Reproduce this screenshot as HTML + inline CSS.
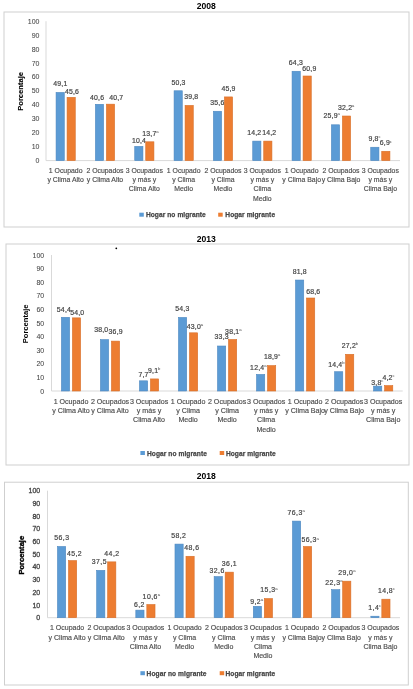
<!DOCTYPE html><html><head><meta charset="utf-8"><style>html,body{margin:0;padding:0;background:#fff;width:413px;height:689px;overflow:hidden}svg{display:block;will-change:transform}text{font-family:"Liberation Sans",sans-serif}.g{fill:#454545;stroke:#454545;stroke-width:0.2}</style></head><body>
<svg width="413" height="689" viewBox="0 0 413 689">
<rect width="413" height="689" fill="#fff"/>
<rect x="4" y="12" width="405" height="215" fill="none" stroke="#CFCFCF" stroke-width="1"/>
<text x="206.3" y="8.9" font-size="8.6" font-weight="bold" text-anchor="middle" fill="#000">2008</text>
<text x="39.5" y="163.10" font-size="7.0" text-anchor="end" class="g" style="stroke-width:0.05">0</text>
<text x="39.5" y="149.16" font-size="7.0" text-anchor="end" class="g" style="stroke-width:0.05">10</text>
<text x="39.5" y="135.22" font-size="7.0" text-anchor="end" class="g" style="stroke-width:0.05">20</text>
<text x="39.5" y="121.28" font-size="7.0" text-anchor="end" class="g" style="stroke-width:0.05">30</text>
<text x="39.5" y="107.34" font-size="7.0" text-anchor="end" class="g" style="stroke-width:0.05">40</text>
<text x="39.5" y="93.40" font-size="7.0" text-anchor="end" class="g" style="stroke-width:0.05">50</text>
<text x="39.5" y="79.46" font-size="7.0" text-anchor="end" class="g" style="stroke-width:0.05">60</text>
<text x="39.5" y="65.52" font-size="7.0" text-anchor="end" class="g" style="stroke-width:0.05">70</text>
<text x="39.5" y="51.58" font-size="7.0" text-anchor="end" class="g" style="stroke-width:0.05">80</text>
<text x="39.5" y="37.64" font-size="7.0" text-anchor="end" class="g" style="stroke-width:0.05">90</text>
<text x="39.5" y="23.70" font-size="7.0" text-anchor="end" class="g" style="stroke-width:0.05">100</text>
<line x1="46" y1="21.2" x2="46" y2="160.6" stroke="#D9D9D9" stroke-width="1"/>
<line x1="46" y1="160.6" x2="400" y2="160.6" stroke="#D9D9D9" stroke-width="1"/>
<text x="0" y="0" transform="translate(23.0,91.4) rotate(-90)" font-size="7.6" font-weight="bold" text-anchor="middle" fill="#000" stroke="#000" stroke-width="0.1">Porcentaje</text>
<rect x="56.07" y="92.45" width="8.20" height="68.15" fill="#5B9BD5" stroke="#4D88C0" stroke-width="0.6"/>
<text x="60.35" y="86.30" font-size="6.9" letter-spacing="0.2" text-anchor="middle" class="g">49,1</text>
<rect x="67.07" y="97.33" width="8.20" height="63.27" fill="#ED7D31" stroke="#D76F2A" stroke-width="0.6"/>
<text x="72.05" y="93.90" font-size="6.9" letter-spacing="0.2" text-anchor="middle" class="g">45,6</text>
<text x="65.67" y="173.00" font-size="6.9" text-anchor="middle" class="g" style="fill:#4d4d4d;stroke:#4d4d4d;stroke-width:.15">1 Ocupado</text>
<text x="65.67" y="182.20" font-size="6.9" text-anchor="middle" class="g" style="fill:#4d4d4d;stroke:#4d4d4d;stroke-width:.15">y Clima Alto</text>
<rect x="95.40" y="104.30" width="8.20" height="56.30" fill="#5B9BD5" stroke="#4D88C0" stroke-width="0.6"/>
<text x="97.15" y="99.50" font-size="6.9" letter-spacing="0.2" text-anchor="middle" class="g">40,6</text>
<rect x="106.40" y="104.16" width="8.20" height="56.44" fill="#ED7D31" stroke="#D76F2A" stroke-width="0.6"/>
<text x="116.30" y="99.50" font-size="6.9" letter-spacing="0.2" text-anchor="middle" class="g">40,7</text>
<text x="105.00" y="173.00" font-size="6.9" text-anchor="middle" class="g" style="fill:#4d4d4d;stroke:#4d4d4d;stroke-width:.15">2 Ocupados</text>
<text x="105.00" y="182.20" font-size="6.9" text-anchor="middle" class="g" style="fill:#4d4d4d;stroke:#4d4d4d;stroke-width:.15">y Clima Alto</text>
<rect x="134.73" y="146.40" width="8.20" height="14.20" fill="#5B9BD5" stroke="#4D88C0" stroke-width="0.6"/>
<text x="139.00" y="142.60" font-size="6.9" letter-spacing="0.2" text-anchor="middle" class="g">10,4</text>
<rect x="145.73" y="141.80" width="8.20" height="18.80" fill="#ED7D31" stroke="#D76F2A" stroke-width="0.6"/>
<text x="150.45" y="135.80" font-size="6.9" letter-spacing="0.2" text-anchor="middle" class="g">13,7<tspan font-size="4.2" dy="-2.9" dx="-0.2" letter-spacing="0" style="stroke-width:0">a</tspan></text>
<text x="144.33" y="173.00" font-size="6.9" text-anchor="middle" class="g" style="fill:#4d4d4d;stroke:#4d4d4d;stroke-width:.15">3 Ocupados</text>
<text x="144.33" y="182.20" font-size="6.9" text-anchor="middle" class="g" style="fill:#4d4d4d;stroke:#4d4d4d;stroke-width:.15">y más y</text>
<text x="144.33" y="191.40" font-size="6.9" text-anchor="middle" class="g" style="fill:#4d4d4d;stroke:#4d4d4d;stroke-width:.15">Clima Alto</text>
<rect x="174.07" y="90.78" width="8.20" height="69.82" fill="#5B9BD5" stroke="#4D88C0" stroke-width="0.6"/>
<text x="178.50" y="85.00" font-size="6.9" letter-spacing="0.2" text-anchor="middle" class="g">50,3</text>
<rect x="185.07" y="105.42" width="8.20" height="55.18" fill="#ED7D31" stroke="#D76F2A" stroke-width="0.6"/>
<text x="191.25" y="99.00" font-size="6.9" letter-spacing="0.2" text-anchor="middle" class="g">39,8</text>
<text x="183.67" y="173.00" font-size="6.9" text-anchor="middle" class="g" style="fill:#4d4d4d;stroke:#4d4d4d;stroke-width:.15">1 Ocupado</text>
<text x="183.67" y="182.20" font-size="6.9" text-anchor="middle" class="g" style="fill:#4d4d4d;stroke:#4d4d4d;stroke-width:.15">y Clima</text>
<text x="183.67" y="191.40" font-size="6.9" text-anchor="middle" class="g" style="fill:#4d4d4d;stroke:#4d4d4d;stroke-width:.15">Medio</text>
<rect x="213.40" y="111.27" width="8.20" height="49.33" fill="#5B9BD5" stroke="#4D88C0" stroke-width="0.6"/>
<text x="217.40" y="104.80" font-size="6.9" letter-spacing="0.2" text-anchor="middle" class="g">35,6</text>
<rect x="224.40" y="96.92" width="8.20" height="63.68" fill="#ED7D31" stroke="#D76F2A" stroke-width="0.6"/>
<text x="228.55" y="90.90" font-size="6.9" letter-spacing="0.2" text-anchor="middle" class="g">45,9</text>
<text x="223.00" y="173.00" font-size="6.9" text-anchor="middle" class="g" style="fill:#4d4d4d;stroke:#4d4d4d;stroke-width:.15">2 Ocupados</text>
<text x="223.00" y="182.20" font-size="6.9" text-anchor="middle" class="g" style="fill:#4d4d4d;stroke:#4d4d4d;stroke-width:.15">y Clima</text>
<text x="223.00" y="191.40" font-size="6.9" text-anchor="middle" class="g" style="fill:#4d4d4d;stroke:#4d4d4d;stroke-width:.15">Medio</text>
<rect x="252.73" y="141.11" width="8.20" height="19.49" fill="#5B9BD5" stroke="#4D88C0" stroke-width="0.6"/>
<text x="254.25" y="134.50" font-size="6.9" letter-spacing="0.2" text-anchor="middle" class="g">14,2</text>
<rect x="263.73" y="141.11" width="8.20" height="19.49" fill="#ED7D31" stroke="#D76F2A" stroke-width="0.6"/>
<text x="269.25" y="134.50" font-size="6.9" letter-spacing="0.2" text-anchor="middle" class="g">14,2</text>
<text x="262.33" y="173.00" font-size="6.9" text-anchor="middle" class="g" style="fill:#4d4d4d;stroke:#4d4d4d;stroke-width:.15">3 Ocupados</text>
<text x="262.33" y="182.20" font-size="6.9" text-anchor="middle" class="g" style="fill:#4d4d4d;stroke:#4d4d4d;stroke-width:.15">y más y</text>
<text x="262.33" y="191.40" font-size="6.9" text-anchor="middle" class="g" style="fill:#4d4d4d;stroke:#4d4d4d;stroke-width:.15">Clima</text>
<text x="262.33" y="200.60" font-size="6.9" text-anchor="middle" class="g" style="fill:#4d4d4d;stroke:#4d4d4d;stroke-width:.15">Medio</text>
<rect x="292.07" y="71.27" width="8.20" height="89.33" fill="#5B9BD5" stroke="#4D88C0" stroke-width="0.6"/>
<text x="295.95" y="65.00" font-size="6.9" letter-spacing="0.2" text-anchor="middle" class="g">64,3</text>
<rect x="303.07" y="76.01" width="8.20" height="84.59" fill="#ED7D31" stroke="#D76F2A" stroke-width="0.6"/>
<text x="309.35" y="70.80" font-size="6.9" letter-spacing="0.2" text-anchor="middle" class="g">60,9</text>
<text x="301.67" y="173.00" font-size="6.9" text-anchor="middle" class="g" style="fill:#4d4d4d;stroke:#4d4d4d;stroke-width:.15">1 Ocupado</text>
<text x="301.67" y="182.20" font-size="6.9" text-anchor="middle" class="g" style="fill:#4d4d4d;stroke:#4d4d4d;stroke-width:.15">y Clima Bajo</text>
<rect x="331.40" y="124.80" width="8.20" height="35.80" fill="#5B9BD5" stroke="#4D88C0" stroke-width="0.6"/>
<text x="331.65" y="118.20" font-size="6.9" letter-spacing="0.2" text-anchor="middle" class="g">25,9<tspan font-size="4.2" dy="-2.9" dx="-0.2" letter-spacing="0" style="stroke-width:0">a</tspan></text>
<rect x="342.40" y="116.01" width="8.20" height="44.59" fill="#ED7D31" stroke="#D76F2A" stroke-width="0.6"/>
<text x="346.15" y="110.00" font-size="6.9" letter-spacing="0.2" text-anchor="middle" class="g">32,2<tspan font-size="4.2" dy="-2.9" dx="-0.2" letter-spacing="0" style="stroke-width:0">a</tspan></text>
<text x="341.00" y="173.00" font-size="6.9" text-anchor="middle" class="g" style="fill:#4d4d4d;stroke:#4d4d4d;stroke-width:.15">2 Ocupados</text>
<text x="341.00" y="182.20" font-size="6.9" text-anchor="middle" class="g" style="fill:#4d4d4d;stroke:#4d4d4d;stroke-width:.15">y Clima Bajo</text>
<rect x="370.73" y="147.24" width="8.20" height="13.36" fill="#5B9BD5" stroke="#4D88C0" stroke-width="0.6"/>
<text x="374.50" y="140.80" font-size="6.9" letter-spacing="0.2" text-anchor="middle" class="g">9,8<tspan font-size="4.2" dy="-2.9" dx="-0.2" letter-spacing="0" style="stroke-width:0">c</tspan></text>
<rect x="381.73" y="151.28" width="8.20" height="9.32" fill="#ED7D31" stroke="#D76F2A" stroke-width="0.6"/>
<text x="385.85" y="145.40" font-size="6.9" letter-spacing="0.2" text-anchor="middle" class="g">6,9<tspan font-size="4.2" dy="-2.9" dx="-0.2" letter-spacing="0" style="stroke-width:0">c</tspan></text>
<text x="380.33" y="173.00" font-size="6.9" text-anchor="middle" class="g" style="fill:#4d4d4d;stroke:#4d4d4d;stroke-width:.15">3 Ocupados</text>
<text x="380.33" y="182.20" font-size="6.9" text-anchor="middle" class="g" style="fill:#4d4d4d;stroke:#4d4d4d;stroke-width:.15">y más y</text>
<text x="380.33" y="191.40" font-size="6.9" text-anchor="middle" class="g" style="fill:#4d4d4d;stroke:#4d4d4d;stroke-width:.15">Clima Bajo</text>
<rect x="139.3" y="212.7" width="4.5" height="4" fill="#5B9BD5"/>
<text x="145.9" y="217.2" font-size="6.6" font-weight="bold" letter-spacing="0.08" class="g" style="stroke-width:0.25">Hogar no migrante</text>
<rect x="218.2" y="212.7" width="4.5" height="4" fill="#ED7D31"/>
<text x="225.3" y="217.2" font-size="6.6" font-weight="bold" letter-spacing="0.08" class="g" style="stroke-width:0.25">Hogar migrante</text>
<rect x="6" y="244" width="403" height="221" fill="none" stroke="#CFCFCF" stroke-width="1"/>
<text x="206.3" y="241.6" font-size="8.6" font-weight="bold" text-anchor="middle" fill="#000">2013</text>
<text x="44.2" y="393.50" font-size="7.0" text-anchor="end" class="g" style="stroke-width:0.05">0</text>
<text x="44.2" y="379.90" font-size="7.0" text-anchor="end" class="g" style="stroke-width:0.05">10</text>
<text x="44.2" y="366.30" font-size="7.0" text-anchor="end" class="g" style="stroke-width:0.05">20</text>
<text x="44.2" y="352.70" font-size="7.0" text-anchor="end" class="g" style="stroke-width:0.05">30</text>
<text x="44.2" y="339.10" font-size="7.0" text-anchor="end" class="g" style="stroke-width:0.05">40</text>
<text x="44.2" y="325.50" font-size="7.0" text-anchor="end" class="g" style="stroke-width:0.05">50</text>
<text x="44.2" y="311.90" font-size="7.0" text-anchor="end" class="g" style="stroke-width:0.05">60</text>
<text x="44.2" y="298.30" font-size="7.0" text-anchor="end" class="g" style="stroke-width:0.05">70</text>
<text x="44.2" y="284.70" font-size="7.0" text-anchor="end" class="g" style="stroke-width:0.05">80</text>
<text x="44.2" y="271.10" font-size="7.0" text-anchor="end" class="g" style="stroke-width:0.05">90</text>
<text x="44.2" y="257.50" font-size="7.0" text-anchor="end" class="g" style="stroke-width:0.05">100</text>
<line x1="51.5" y1="255.0" x2="51.5" y2="391.0" stroke="#D9D9D9" stroke-width="1"/>
<line x1="51.5" y1="391.0" x2="402.7" y2="391.0" stroke="#D9D9D9" stroke-width="1"/>
<text x="0" y="0" transform="translate(28.3,323.9) rotate(-90)" font-size="7.6" font-weight="bold" text-anchor="middle" fill="#000" stroke="#000" stroke-width="0">Porcentaje</text>
<rect x="61.41" y="317.32" width="8.20" height="73.68" fill="#5B9BD5" stroke="#4D88C0" stroke-width="0.6"/>
<text x="63.95" y="311.60" font-size="6.9" letter-spacing="0.2" text-anchor="middle" class="g">54,4</text>
<rect x="72.41" y="317.86" width="8.20" height="73.14" fill="#ED7D31" stroke="#D76F2A" stroke-width="0.6"/>
<text x="77.25" y="314.50" font-size="6.9" letter-spacing="0.2" text-anchor="middle" class="g">54,0</text>
<text x="71.01" y="403.90" font-size="7.1" text-anchor="middle" class="g" style="fill:#4d4d4d;stroke:#4d4d4d;stroke-width:.15">1 Ocupado</text>
<text x="71.01" y="413.10" font-size="7.1" text-anchor="middle" class="g" style="fill:#4d4d4d;stroke:#4d4d4d;stroke-width:.15">y Clima Alto</text>
<rect x="100.43" y="339.62" width="8.20" height="51.38" fill="#5B9BD5" stroke="#4D88C0" stroke-width="0.6"/>
<text x="101.25" y="331.90" font-size="6.9" letter-spacing="0.2" text-anchor="middle" class="g">38,0</text>
<rect x="111.43" y="341.12" width="8.20" height="49.88" fill="#ED7D31" stroke="#D76F2A" stroke-width="0.6"/>
<text x="115.70" y="334.30" font-size="6.9" letter-spacing="0.2" text-anchor="middle" class="g">36,9</text>
<text x="110.03" y="403.90" font-size="7.1" text-anchor="middle" class="g" style="fill:#4d4d4d;stroke:#4d4d4d;stroke-width:.15">2 Ocupados</text>
<text x="110.03" y="413.10" font-size="7.1" text-anchor="middle" class="g" style="fill:#4d4d4d;stroke:#4d4d4d;stroke-width:.15">y Clima Alto</text>
<rect x="139.46" y="380.83" width="8.20" height="10.17" fill="#5B9BD5" stroke="#4D88C0" stroke-width="0.6"/>
<text x="143.55" y="377.20" font-size="6.9" letter-spacing="0.2" text-anchor="middle" class="g">7,7</text>
<rect x="150.46" y="378.92" width="8.20" height="12.08" fill="#ED7D31" stroke="#D76F2A" stroke-width="0.6"/>
<text x="154.20" y="372.90" font-size="6.9" letter-spacing="0.2" text-anchor="middle" class="g">9,1<tspan font-size="4.2" dy="-2.9" dx="-0.2" letter-spacing="0" style="stroke-width:0">b</tspan></text>
<text x="149.06" y="403.90" font-size="7.1" text-anchor="middle" class="g" style="fill:#4d4d4d;stroke:#4d4d4d;stroke-width:.15">3 Ocupados</text>
<text x="149.06" y="413.10" font-size="7.1" text-anchor="middle" class="g" style="fill:#4d4d4d;stroke:#4d4d4d;stroke-width:.15">y más y</text>
<text x="149.06" y="422.30" font-size="7.1" text-anchor="middle" class="g" style="fill:#4d4d4d;stroke:#4d4d4d;stroke-width:.15">Clima Alto</text>
<rect x="178.48" y="317.45" width="8.20" height="73.55" fill="#5B9BD5" stroke="#4D88C0" stroke-width="0.6"/>
<text x="182.35" y="311.20" font-size="6.9" letter-spacing="0.2" text-anchor="middle" class="g">54,3</text>
<rect x="189.48" y="332.82" width="8.20" height="58.18" fill="#ED7D31" stroke="#D76F2A" stroke-width="0.6"/>
<text x="194.90" y="329.30" font-size="6.9" letter-spacing="0.2" text-anchor="middle" class="g">43,0<tspan font-size="4.2" dy="-2.9" dx="-0.2" letter-spacing="0" style="stroke-width:0">a</tspan></text>
<text x="188.08" y="403.90" font-size="7.1" text-anchor="middle" class="g" style="fill:#4d4d4d;stroke:#4d4d4d;stroke-width:.15">1 Ocupado</text>
<text x="188.08" y="413.10" font-size="7.1" text-anchor="middle" class="g" style="fill:#4d4d4d;stroke:#4d4d4d;stroke-width:.15">y Clima</text>
<text x="188.08" y="422.30" font-size="7.1" text-anchor="middle" class="g" style="fill:#4d4d4d;stroke:#4d4d4d;stroke-width:.15">Medio</text>
<rect x="217.50" y="346.01" width="8.20" height="44.99" fill="#5B9BD5" stroke="#4D88C0" stroke-width="0.6"/>
<text x="221.70" y="339.20" font-size="6.9" letter-spacing="0.2" text-anchor="middle" class="g">33,3</text>
<rect x="228.50" y="339.48" width="8.20" height="51.52" fill="#ED7D31" stroke="#D76F2A" stroke-width="0.6"/>
<text x="233.30" y="333.80" font-size="6.9" letter-spacing="0.2" text-anchor="middle" class="g">38,1<tspan font-size="4.2" dy="-2.9" dx="-0.2" letter-spacing="0" style="stroke-width:0">a</tspan></text>
<text x="227.10" y="403.90" font-size="7.1" text-anchor="middle" class="g" style="fill:#4d4d4d;stroke:#4d4d4d;stroke-width:.15">2 Ocupados</text>
<text x="227.10" y="413.10" font-size="7.1" text-anchor="middle" class="g" style="fill:#4d4d4d;stroke:#4d4d4d;stroke-width:.15">y Clima</text>
<text x="227.10" y="422.30" font-size="7.1" text-anchor="middle" class="g" style="fill:#4d4d4d;stroke:#4d4d4d;stroke-width:.15">Medio</text>
<rect x="256.52" y="374.44" width="8.20" height="16.56" fill="#5B9BD5" stroke="#4D88C0" stroke-width="0.6"/>
<text x="258.30" y="370.10" font-size="6.9" letter-spacing="0.2" text-anchor="middle" class="g">12,4<tspan font-size="4.2" dy="-2.9" dx="-0.2" letter-spacing="0" style="stroke-width:0">a</tspan></text>
<rect x="267.52" y="365.60" width="8.20" height="25.40" fill="#ED7D31" stroke="#D76F2A" stroke-width="0.6"/>
<text x="272.10" y="359.00" font-size="6.9" letter-spacing="0.2" text-anchor="middle" class="g">18,9<tspan font-size="4.2" dy="-2.9" dx="-0.2" letter-spacing="0" style="stroke-width:0">a</tspan></text>
<text x="266.12" y="403.90" font-size="7.1" text-anchor="middle" class="g" style="fill:#4d4d4d;stroke:#4d4d4d;stroke-width:.15">3 Ocupados</text>
<text x="266.12" y="413.10" font-size="7.1" text-anchor="middle" class="g" style="fill:#4d4d4d;stroke:#4d4d4d;stroke-width:.15">y más y</text>
<text x="266.12" y="422.30" font-size="7.1" text-anchor="middle" class="g" style="fill:#4d4d4d;stroke:#4d4d4d;stroke-width:.15">Clima</text>
<text x="266.12" y="431.50" font-size="7.1" text-anchor="middle" class="g" style="fill:#4d4d4d;stroke:#4d4d4d;stroke-width:.15">Medio</text>
<rect x="295.54" y="280.05" width="8.20" height="110.95" fill="#5B9BD5" stroke="#4D88C0" stroke-width="0.6"/>
<text x="299.75" y="274.00" font-size="6.9" letter-spacing="0.2" text-anchor="middle" class="g">81,8</text>
<rect x="306.54" y="298.00" width="8.20" height="93.00" fill="#ED7D31" stroke="#D76F2A" stroke-width="0.6"/>
<text x="313.30" y="293.80" font-size="6.9" letter-spacing="0.2" text-anchor="middle" class="g">68,6</text>
<text x="305.14" y="403.90" font-size="7.1" text-anchor="middle" class="g" style="fill:#4d4d4d;stroke:#4d4d4d;stroke-width:.15">1 Ocupado</text>
<text x="305.14" y="413.10" font-size="7.1" text-anchor="middle" class="g" style="fill:#4d4d4d;stroke:#4d4d4d;stroke-width:.15">y Clima Bajo</text>
<rect x="334.57" y="371.72" width="8.20" height="19.28" fill="#5B9BD5" stroke="#4D88C0" stroke-width="0.6"/>
<text x="336.35" y="367.30" font-size="6.9" letter-spacing="0.2" text-anchor="middle" class="g">14,4<tspan font-size="4.2" dy="-2.9" dx="-0.2" letter-spacing="0" style="stroke-width:0">b</tspan></text>
<rect x="345.57" y="354.31" width="8.20" height="36.69" fill="#ED7D31" stroke="#D76F2A" stroke-width="0.6"/>
<text x="349.95" y="348.30" font-size="6.9" letter-spacing="0.2" text-anchor="middle" class="g">27,2<tspan font-size="4.2" dy="-2.9" dx="-0.2" letter-spacing="0" style="stroke-width:0">b</tspan></text>
<text x="344.17" y="403.90" font-size="7.1" text-anchor="middle" class="g" style="fill:#4d4d4d;stroke:#4d4d4d;stroke-width:.15">2 Ocupados</text>
<text x="344.17" y="413.10" font-size="7.1" text-anchor="middle" class="g" style="fill:#4d4d4d;stroke:#4d4d4d;stroke-width:.15">y Clima Bajo</text>
<rect x="373.59" y="386.13" width="8.20" height="4.87" fill="#5B9BD5" stroke="#4D88C0" stroke-width="0.6"/>
<text x="377.35" y="384.60" font-size="6.9" letter-spacing="0.2" text-anchor="middle" class="g">3,8<tspan font-size="4.2" dy="-2.9" dx="-0.2" letter-spacing="0" style="stroke-width:0">c</tspan></text>
<rect x="384.59" y="385.59" width="8.20" height="5.41" fill="#ED7D31" stroke="#D76F2A" stroke-width="0.6"/>
<text x="388.45" y="380.30" font-size="6.9" letter-spacing="0.2" text-anchor="middle" class="g">4,2<tspan font-size="4.2" dy="-2.9" dx="-0.2" letter-spacing="0" style="stroke-width:0">c</tspan></text>
<text x="383.19" y="403.90" font-size="7.1" text-anchor="middle" class="g" style="fill:#4d4d4d;stroke:#4d4d4d;stroke-width:.15">3 Ocupados</text>
<text x="383.19" y="413.10" font-size="7.1" text-anchor="middle" class="g" style="fill:#4d4d4d;stroke:#4d4d4d;stroke-width:.15">y más y</text>
<text x="383.19" y="422.30" font-size="7.1" text-anchor="middle" class="g" style="fill:#4d4d4d;stroke:#4d4d4d;stroke-width:.15">Clima Bajo</text>
<rect x="140.4" y="451" width="4.5" height="4" fill="#5B9BD5"/>
<text x="147" y="455.5" font-size="6.6" font-weight="bold" letter-spacing="0.08" class="g" style="stroke-width:0.25">Hogar no migrante</text>
<rect x="219.7" y="451" width="4.5" height="4" fill="#ED7D31"/>
<text x="225.9" y="455.5" font-size="6.6" font-weight="bold" letter-spacing="0.08" class="g" style="stroke-width:0.25">Hogar migrante</text>
<rect x="4.5" y="482.2" width="403.8" height="202.8" fill="none" stroke="#CFCFCF" stroke-width="1"/>
<text x="206.3" y="479.0" font-size="8.6" font-weight="bold" text-anchor="middle" fill="#000">2018</text>
<text x="40.2" y="620.20" font-size="7.0" text-anchor="end" class="g" style="stroke-width:0.3">0</text>
<text x="40.2" y="607.50" font-size="7.0" text-anchor="end" class="g" style="stroke-width:0.3">10</text>
<text x="40.2" y="594.80" font-size="7.0" text-anchor="end" class="g" style="stroke-width:0.3">20</text>
<text x="40.2" y="582.10" font-size="7.0" text-anchor="end" class="g" style="stroke-width:0.3">30</text>
<text x="40.2" y="569.40" font-size="7.0" text-anchor="end" class="g" style="stroke-width:0.3">40</text>
<text x="40.2" y="556.70" font-size="7.0" text-anchor="end" class="g" style="stroke-width:0.3">50</text>
<text x="40.2" y="544.00" font-size="7.0" text-anchor="end" class="g" style="stroke-width:0.3">60</text>
<text x="40.2" y="531.30" font-size="7.0" text-anchor="end" class="g" style="stroke-width:0.3">70</text>
<text x="40.2" y="518.60" font-size="7.0" text-anchor="end" class="g" style="stroke-width:0.3">80</text>
<text x="40.2" y="505.90" font-size="7.0" text-anchor="end" class="g" style="stroke-width:0.3">90</text>
<text x="40.2" y="493.20" font-size="7.0" text-anchor="end" class="g" style="stroke-width:0.3">100</text>
<line x1="47.5" y1="490.7" x2="47.5" y2="617.7" stroke="#D9D9D9" stroke-width="1"/>
<line x1="47.5" y1="617.7" x2="400" y2="617.7" stroke="#D9D9D9" stroke-width="1"/>
<text x="0" y="0" transform="translate(24.2,555.2) rotate(-90)" font-size="7.6" font-weight="bold" text-anchor="middle" fill="#000" stroke="#000" stroke-width="0.35">Porcentaje</text>
<rect x="57.48" y="546.50" width="8.20" height="71.20" fill="#5B9BD5" stroke="#4D88C0" stroke-width="0.6"/>
<text x="61.85" y="540.30" font-size="6.9" letter-spacing="0.45" text-anchor="middle" class="g">56,3</text>
<rect x="68.48" y="560.60" width="8.20" height="57.10" fill="#ED7D31" stroke="#D76F2A" stroke-width="0.6"/>
<text x="74.55" y="555.60" font-size="6.9" letter-spacing="0.45" text-anchor="middle" class="g">45,2</text>
<text x="67.08" y="630.30" font-size="7.0" text-anchor="middle" class="g" style="fill:#4d4d4d;stroke:#4d4d4d;stroke-width:.15">1 Ocupado</text>
<text x="67.08" y="639.55" font-size="7.0" text-anchor="middle" class="g" style="fill:#4d4d4d;stroke:#4d4d4d;stroke-width:.15">y Clima Alto</text>
<rect x="96.65" y="570.38" width="8.20" height="47.33" fill="#5B9BD5" stroke="#4D88C0" stroke-width="0.6"/>
<text x="99.35" y="563.80" font-size="6.9" letter-spacing="0.45" text-anchor="middle" class="g">37,5</text>
<rect x="107.65" y="561.87" width="8.20" height="55.83" fill="#ED7D31" stroke="#D76F2A" stroke-width="0.6"/>
<text x="111.95" y="555.50" font-size="6.9" letter-spacing="0.45" text-anchor="middle" class="g">44,2</text>
<text x="106.25" y="630.30" font-size="7.0" text-anchor="middle" class="g" style="fill:#4d4d4d;stroke:#4d4d4d;stroke-width:.15">2 Ocupados</text>
<text x="106.25" y="639.55" font-size="7.0" text-anchor="middle" class="g" style="fill:#4d4d4d;stroke:#4d4d4d;stroke-width:.15">y Clima Alto</text>
<rect x="135.82" y="610.13" width="8.20" height="7.57" fill="#5B9BD5" stroke="#4D88C0" stroke-width="0.6"/>
<text x="139.40" y="606.60" font-size="6.9" letter-spacing="0.45" text-anchor="middle" class="g">6,2</text>
<rect x="146.82" y="604.54" width="8.20" height="13.16" fill="#ED7D31" stroke="#D76F2A" stroke-width="0.6"/>
<text x="151.30" y="598.80" font-size="6.9" letter-spacing="0.45" text-anchor="middle" class="g">10,6<tspan font-size="4.2" dy="-2.9" dx="-0.2" letter-spacing="0" style="stroke-width:0">a</tspan></text>
<text x="145.42" y="630.30" font-size="7.0" text-anchor="middle" class="g" style="fill:#4d4d4d;stroke:#4d4d4d;stroke-width:.15">3 Ocupados</text>
<text x="145.42" y="639.55" font-size="7.0" text-anchor="middle" class="g" style="fill:#4d4d4d;stroke:#4d4d4d;stroke-width:.15">y más y</text>
<text x="145.42" y="648.80" font-size="7.0" text-anchor="middle" class="g" style="fill:#4d4d4d;stroke:#4d4d4d;stroke-width:.15">Clima Alto</text>
<rect x="174.98" y="544.09" width="8.20" height="73.61" fill="#5B9BD5" stroke="#4D88C0" stroke-width="0.6"/>
<text x="178.80" y="537.90" font-size="6.9" letter-spacing="0.45" text-anchor="middle" class="g">58,2</text>
<rect x="185.98" y="556.28" width="8.20" height="61.42" fill="#ED7D31" stroke="#D76F2A" stroke-width="0.6"/>
<text x="191.85" y="550.20" font-size="6.9" letter-spacing="0.45" text-anchor="middle" class="g">48,6</text>
<text x="184.58" y="630.30" font-size="7.0" text-anchor="middle" class="g" style="fill:#4d4d4d;stroke:#4d4d4d;stroke-width:.15">1 Ocupado</text>
<text x="184.58" y="639.55" font-size="7.0" text-anchor="middle" class="g" style="fill:#4d4d4d;stroke:#4d4d4d;stroke-width:.15">y Clima</text>
<text x="184.58" y="648.80" font-size="7.0" text-anchor="middle" class="g" style="fill:#4d4d4d;stroke:#4d4d4d;stroke-width:.15">Medio</text>
<rect x="214.15" y="576.60" width="8.20" height="41.10" fill="#5B9BD5" stroke="#4D88C0" stroke-width="0.6"/>
<text x="217.10" y="573.00" font-size="6.9" letter-spacing="0.45" text-anchor="middle" class="g">32,6</text>
<rect x="225.15" y="572.15" width="8.20" height="45.55" fill="#ED7D31" stroke="#D76F2A" stroke-width="0.6"/>
<text x="229.45" y="565.80" font-size="6.9" letter-spacing="0.45" text-anchor="middle" class="g">36,1</text>
<text x="223.75" y="630.30" font-size="7.0" text-anchor="middle" class="g" style="fill:#4d4d4d;stroke:#4d4d4d;stroke-width:.15">2 Ocupados</text>
<text x="223.75" y="639.55" font-size="7.0" text-anchor="middle" class="g" style="fill:#4d4d4d;stroke:#4d4d4d;stroke-width:.15">y Clima</text>
<text x="223.75" y="648.80" font-size="7.0" text-anchor="middle" class="g" style="fill:#4d4d4d;stroke:#4d4d4d;stroke-width:.15">Medio</text>
<rect x="253.32" y="606.32" width="8.20" height="11.38" fill="#5B9BD5" stroke="#4D88C0" stroke-width="0.6"/>
<text x="256.75" y="603.50" font-size="6.9" letter-spacing="0.45" text-anchor="middle" class="g">9,2<tspan font-size="4.2" dy="-2.9" dx="-0.2" letter-spacing="0" style="stroke-width:0">a</tspan></text>
<rect x="264.32" y="598.57" width="8.20" height="19.13" fill="#ED7D31" stroke="#D76F2A" stroke-width="0.6"/>
<text x="269.00" y="592.40" font-size="6.9" letter-spacing="0.45" text-anchor="middle" class="g">15,3<tspan font-size="4.2" dy="-2.9" dx="-0.2" letter-spacing="0" style="stroke-width:0">a</tspan></text>
<text x="262.92" y="630.30" font-size="7.0" text-anchor="middle" class="g" style="fill:#4d4d4d;stroke:#4d4d4d;stroke-width:.15">3 Ocupados</text>
<text x="262.92" y="639.55" font-size="7.0" text-anchor="middle" class="g" style="fill:#4d4d4d;stroke:#4d4d4d;stroke-width:.15">y más y</text>
<text x="262.92" y="648.80" font-size="7.0" text-anchor="middle" class="g" style="fill:#4d4d4d;stroke:#4d4d4d;stroke-width:.15">Clima</text>
<text x="262.92" y="658.05" font-size="7.0" text-anchor="middle" class="g" style="fill:#4d4d4d;stroke:#4d4d4d;stroke-width:.15">Medio</text>
<rect x="292.48" y="521.10" width="8.20" height="96.60" fill="#5B9BD5" stroke="#4D88C0" stroke-width="0.6"/>
<text x="296.20" y="515.10" font-size="6.9" letter-spacing="0.45" text-anchor="middle" class="g">76,3<tspan font-size="4.2" dy="-2.9" dx="-0.2" letter-spacing="0" style="stroke-width:0">a</tspan></text>
<rect x="303.48" y="546.50" width="8.20" height="71.20" fill="#ED7D31" stroke="#D76F2A" stroke-width="0.6"/>
<text x="310.20" y="542.40" font-size="6.9" letter-spacing="0.45" text-anchor="middle" class="g">56,3<tspan font-size="4.2" dy="-2.9" dx="-0.2" letter-spacing="0" style="stroke-width:0">a</tspan></text>
<text x="302.08" y="630.30" font-size="7.0" text-anchor="middle" class="g" style="fill:#4d4d4d;stroke:#4d4d4d;stroke-width:.15">1 Ocupado</text>
<text x="302.08" y="639.55" font-size="7.0" text-anchor="middle" class="g" style="fill:#4d4d4d;stroke:#4d4d4d;stroke-width:.15">y Clima Bajo</text>
<rect x="331.65" y="589.68" width="8.20" height="28.02" fill="#5B9BD5" stroke="#4D88C0" stroke-width="0.6"/>
<text x="333.90" y="585.00" font-size="6.9" letter-spacing="0.45" text-anchor="middle" class="g">22,3<tspan font-size="4.2" dy="-2.9" dx="-0.2" letter-spacing="0" style="stroke-width:0">a</tspan></text>
<rect x="342.65" y="581.17" width="8.20" height="36.53" fill="#ED7D31" stroke="#D76F2A" stroke-width="0.6"/>
<text x="346.85" y="575.10" font-size="6.9" letter-spacing="0.45" text-anchor="middle" class="g">29,0<tspan font-size="4.2" dy="-2.9" dx="-0.2" letter-spacing="0" style="stroke-width:0">a</tspan></text>
<text x="341.25" y="630.30" font-size="7.0" text-anchor="middle" class="g" style="fill:#4d4d4d;stroke:#4d4d4d;stroke-width:.15">2 Ocupados</text>
<text x="341.25" y="639.55" font-size="7.0" text-anchor="middle" class="g" style="fill:#4d4d4d;stroke:#4d4d4d;stroke-width:.15">y Clima Bajo</text>
<rect x="370.82" y="616.22" width="8.20" height="1.48" fill="#5B9BD5" stroke="#4D88C0" stroke-width="0.6"/>
<text x="374.70" y="610.30" font-size="6.9" letter-spacing="0.45" text-anchor="middle" class="g">1,4<tspan font-size="4.2" dy="-2.9" dx="-0.2" letter-spacing="0" style="stroke-width:0">c</tspan></text>
<rect x="381.82" y="599.20" width="8.20" height="18.50" fill="#ED7D31" stroke="#D76F2A" stroke-width="0.6"/>
<text x="386.50" y="592.90" font-size="6.9" letter-spacing="0.45" text-anchor="middle" class="g">14,8<tspan font-size="4.2" dy="-2.9" dx="-0.2" letter-spacing="0" style="stroke-width:0">c</tspan></text>
<text x="380.42" y="630.30" font-size="7.0" text-anchor="middle" class="g" style="fill:#4d4d4d;stroke:#4d4d4d;stroke-width:.15">3 Ocupados</text>
<text x="380.42" y="639.55" font-size="7.0" text-anchor="middle" class="g" style="fill:#4d4d4d;stroke:#4d4d4d;stroke-width:.15">y más y</text>
<text x="380.42" y="648.80" font-size="7.0" text-anchor="middle" class="g" style="fill:#4d4d4d;stroke:#4d4d4d;stroke-width:.15">Clima Bajo</text>
<rect x="140.4" y="671.2" width="4.5" height="4" fill="#5B9BD5"/>
<text x="146.6" y="675.7" font-size="6.6" font-weight="bold" letter-spacing="0.08" class="g" style="stroke-width:0.25">Hogar no migrante</text>
<rect x="219.7" y="671.2" width="4.5" height="4" fill="#ED7D31"/>
<text x="225.5" y="675.7" font-size="6.6" font-weight="bold" letter-spacing="0.08" class="g" style="stroke-width:0.25">Hogar migrante</text>
<circle cx="116.3" cy="248.3" r="0.9" fill="#000"/>
</svg></body></html>
